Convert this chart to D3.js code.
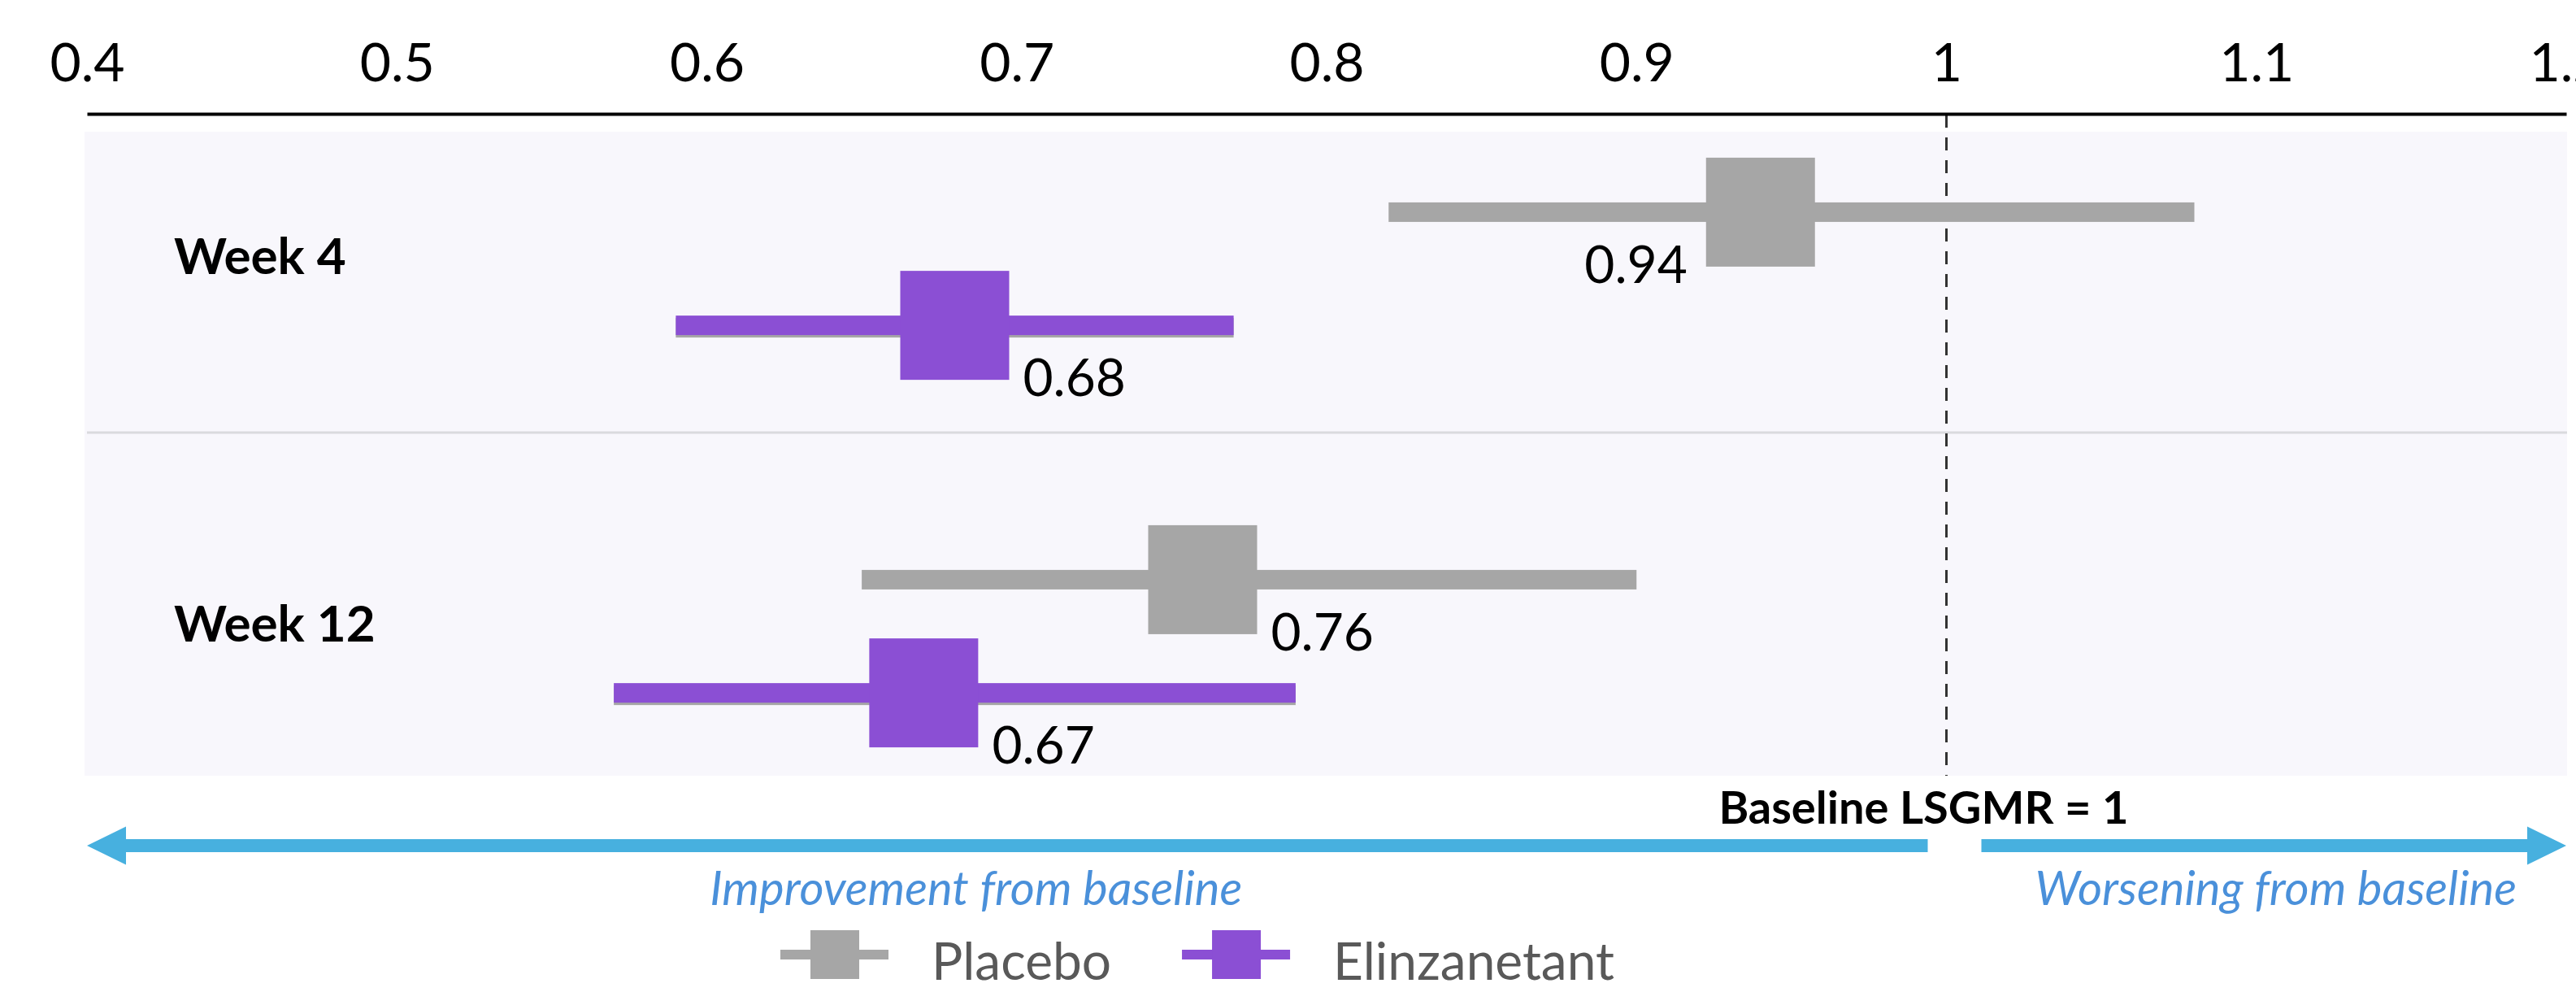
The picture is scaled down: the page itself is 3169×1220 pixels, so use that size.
<!DOCTYPE html>
<html>
<head>
<meta charset="utf-8">
<script src="https://cdn.jsdelivr.net/npm/d3@7"></script>
<style>
  body { margin: 0; background: #fff; }
  text { font-family: Lato, "Noto Sans", sans-serif; }
</style>
</head>
<body>
<div id="chart"></div>
<script>
// values (LSGMR with 95% CI)
var weeks = ["Week 4", "Week 12"];
var series = ["Placebo", "Elinzanetant"];
var placeboEst = [0.94, 0.76];
var placeboLo = [0.82, 0.65];
var placeboHi = [1.08, 0.90];
var elinzEst = [0.68, 0.67];
var elinzLo = [0.59, 0.57];
var elinzHi = [0.77, 0.79];
var tickValues = [0.4, 0.5, 0.6, 0.7, 0.8, 0.9, 1, 1.1, 1.2];

var colors = {"Placebo": "#a6a6a6", "Elinzanetant": "#8b4fd4"};
var arrowColor = "#47b0df", arrowText = "#4a90da";

var width = 3169, height = 1220;
var axisY = 140, panelTop = 162, panelBottom = 954;
var box = 134, barH = 24;

var svg = d3.select("#chart").append("svg")
    .attr("width", width)
    .attr("height", height);

var x = d3.scaleLinear().domain([0.4, 1.2]).range([107, 3157]);

// one band per week, series sit at a fraction of the band
var yWeek = d3.scaleBand().domain(weeks).range([100, 1004]);
var ySeries = d3.scaleOrdinal().domain(series).range([0.356, 0.664]);

var rows = [];
weeks.forEach(function(w, i) {
    rows.push({week: w, group: "Placebo", est: placeboEst[i], lo: placeboLo[i], hi: placeboHi[i]});
    rows.push({week: w, group: "Elinzanetant", est: elinzEst[i], lo: elinzLo[i], hi: elinzHi[i]});
});
function yPos(d) { return yWeek(d.week) + ySeries(d.group) * yWeek.bandwidth(); }

// background panel + row divider
svg.append("rect")
    .attr("x", x(0.4) - 3).attr("y", panelTop)
    .attr("width", x(1.2) - x(0.4) + 4).attr("height", panelBottom - panelTop)
    .attr("fill", "#f8f7fc");
svg.append("line")
    .attr("x1", x(0.4)).attr("x2", x(1.2) + 1)
    .attr("y1", yWeek("Week 12") - 20).attr("y2", yWeek("Week 12") - 20)
    .attr("stroke", "#dadade").attr("stroke-width", 3);

// reference line at 1
svg.append("line")
    .attr("x1", x(1)).attr("x2", x(1))
    .attr("y1", axisY + 1).attr("y2", panelBottom)
    .attr("stroke", "#333").attr("stroke-width", 3)
    .attr("stroke-dasharray", "16,12");

// top axis
var axis = svg.append("g")
    .attr("transform", "translate(0," + axisY + ")")
    .call(d3.axisTop(x).tickValues(tickValues).tickSize(0).tickSizeOuter(0).tickPadding(40).tickFormat(d3.format("~g")));
axis.attr("font-family", null).attr("font-size", null);
axis.select(".domain").attr("stroke", "#000").attr("stroke-width", 4);
axis.selectAll("text").attr("font-size", 66).attr("fill", "#000");

// week labels
svg.selectAll(".week")
    .data(weeks)
    .enter().append("text")
    .attr("class", "week")
    .attr("x", 214)
    .attr("y", function(d) { return yWeek(d) + yWeek.bandwidth() / 2 + 11; })
    .attr("font-size", 62).attr("font-weight", "bold")
    .text(function(d) { return d; });

// CI bars (purple ones have a grey edge underneath)
svg.selectAll(".shadow")
    .data(rows.filter(function(d) { return d.group == "Elinzanetant"; }))
    .enter().append("rect")
    .attr("class", "shadow")
    .attr("x", function(d) { return x(d.lo); })
    .attr("y", function(d) { return yPos(d) - barH / 2 + 3; })
    .attr("width", function(d) { return x(d.hi) - x(d.lo); })
    .attr("height", barH)
    .attr("fill", "#a6a6a6");

svg.selectAll(".ci")
    .data(rows)
    .enter().append("rect")
    .attr("class", "ci")
    .attr("x", function(d) { return x(d.lo); })
    .attr("y", function(d) { return yPos(d) - barH / 2; })
    .attr("width", function(d) { return x(d.hi) - x(d.lo); })
    .attr("height", barH)
    .attr("fill", function(d) { return colors[d.group]; });

// point estimates
svg.selectAll(".est")
    .data(rows)
    .enter().append("rect")
    .attr("class", "est")
    .attr("x", function(d) { return x(d.est) - box / 2; })
    .attr("y", function(d) { return yPos(d) - box / 2; })
    .attr("width", box).attr("height", box)
    .attr("fill", function(d) { return colors[d.group]; });

// value labels - left of the box when the CI crosses 1
svg.selectAll(".val")
    .data(rows)
    .enter().append("text")
    .attr("class", "val")
    .attr("x", function(d) { return d.hi > 1 ? x(d.est) - box / 2 - 23 : x(d.est) + box / 2 + 17; })
    .attr("y", function(d) { return yPos(d) + box / 2 + 20; })
    .attr("text-anchor", function(d) { return d.hi > 1 ? "end" : "start"; })
    .attr("font-size", 64)
    .text(function(d) { return d3.format(".2f")(d.est); });

// baseline note + direction arrows
svg.append("text")
    .attr("x", x(1) - 28).attr("y", 1013)
    .attr("text-anchor", "middle")
    .attr("font-size", 56).attr("font-weight", "bold")
    .text("Baseline LSGMR = 1");

var ay = 1040, sh = 8, hh = 23.5, hl = 48;
var left = [[x(0.4), ay], [x(0.4) + hl, ay - hh], [x(0.4) + hl, ay - sh], [x(1) - 23, ay - sh],
            [x(1) - 23, ay + sh], [x(0.4) + hl, ay + sh], [x(0.4) + hl, ay + hh]];
var right = [[x(1.2), ay], [x(1.2) - hl, ay - hh], [x(1.2) - hl, ay - sh], [x(1) + 43, ay - sh],
             [x(1) + 43, ay + sh], [x(1.2) - hl, ay + sh], [x(1.2) - hl, ay + hh]];
svg.selectAll(".arrow")
    .data([left, right])
    .enter().append("path")
    .attr("class", "arrow")
    .attr("d", function(d) { return "M" + d.join("L") + "Z"; })
    .attr("fill", arrowColor);

svg.append("text")
    .attr("x", (x(0.4) + x(1)) / 2 - 50).attr("y", 1113)
    .attr("text-anchor", "middle")
    .attr("font-size", 58).attr("font-style", "italic")
    .attr("fill", arrowText)
    .text("Improvement from baseline");
svg.append("text")
    .attr("x", x(1.2) - 61).attr("y", 1113)
    .attr("text-anchor", "end")
    .attr("font-size", 58).attr("font-style", "italic")
    .attr("fill", arrowText)
    .text("Worsening from baseline");

// legend
var lx = 960, ly = 1174;
series.forEach(function(s) {
    var g = svg.append("g").attr("transform", "translate(" + lx + "," + ly + ")");
    g.append("rect").attr("x", 0).attr("y", -6).attr("width", 133).attr("height", 12).attr("fill", colors[s]);
    g.append("rect").attr("x", 37).attr("y", -30).attr("width", 60).attr("height", 60).attr("fill", colors[s]);
    var t = g.append("text")
        .attr("x", 186).attr("y", 31)
        .attr("font-size", 64).attr("fill", "#595959")
        .text(s);
    lx += 186 + t.node().getComputedTextLength() + 87;
});
</script>
</body>
</html>
